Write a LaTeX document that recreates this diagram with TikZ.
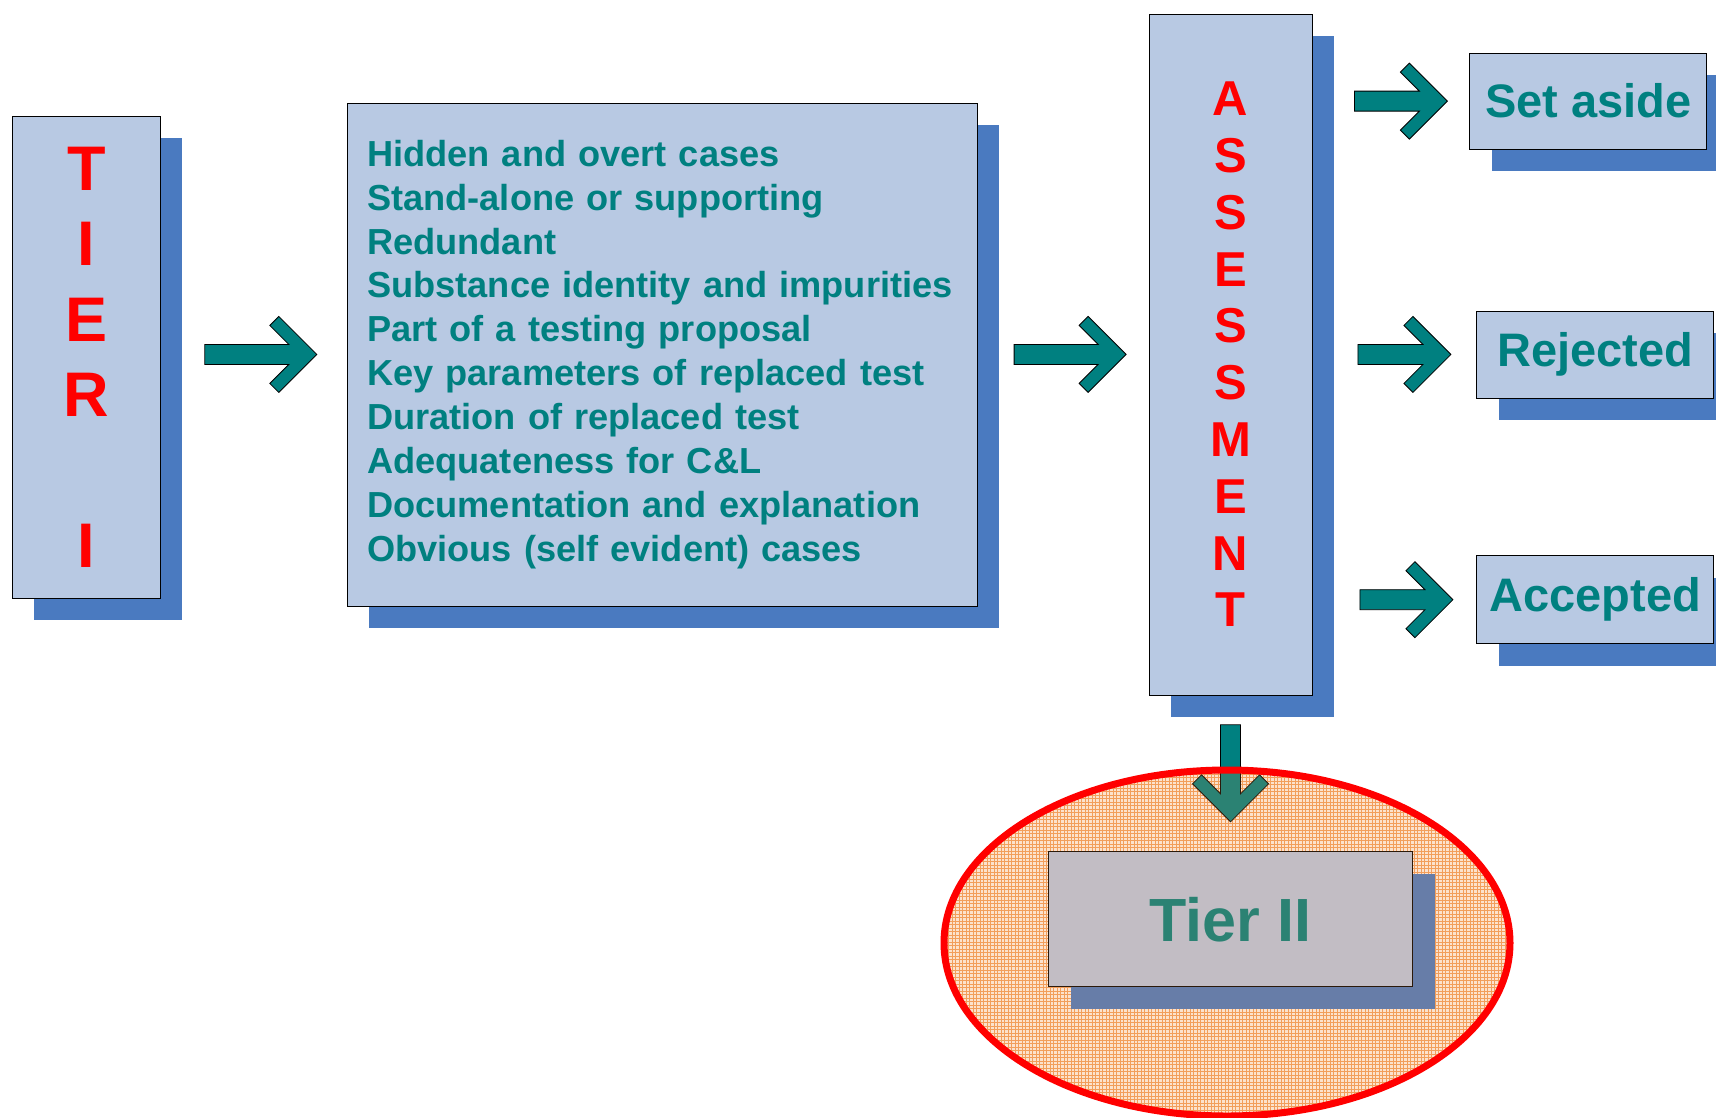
\documentclass[tikz,border=0pt]{standalone}
\usepackage{fontspec}
\setmainfont{Liberation Sans}
\usepackage{xcolor}
\usetikzlibrary{positioning, shadows, shapes.geometric, patterns, calc}

\definecolor{boxblue}{RGB}{184,201,227}
\definecolor{shadeblue}{RGB}{74,122,192}
\definecolor{tealink}{RGB}{0,128,128}
\definecolor{gridorange}{RGB}{240,140,60}

% fine orange grid for the Tier II halo
\pgfdeclarepatternformonly{finegrid}{\pgfqpoint{-0.5pt}{-0.5pt}}{\pgfqpoint{4pt}{4pt}}{\pgfqpoint{3.5pt}{3.5pt}}{%
  \pgfsetlinewidth{0.6pt}
  \pgfpathmoveto{\pgfqpoint{0pt}{0pt}}\pgfpathlineto{\pgfqpoint{0pt}{3.6pt}}
  \pgfpathmoveto{\pgfqpoint{0pt}{0pt}}\pgfpathlineto{\pgfqpoint{3.6pt}{0pt}}
  \pgfusepath{stroke}}

\tikzset{
  panel/.style={rectangle, draw=black, line width=0.8pt, fill=boxblue, inner sep=0pt,
    drop shadow={fill=shadeblue, opacity=1, shadow xshift=22pt, shadow yshift=-22pt}},
  redword/.style={text=red, align=center},
  outcome/.style={panel, minimum width=237pt, text=tealink,
    font=\bfseries\fontsize{47}{52}\selectfont},
  pics/blockarrow/.style={code={
    \draw[fill=tealink, draw=black, line width=0.8pt]
      ({#1/2},0) -- ++(-38,38) -- ++(-9,-9) -- ++(19,-19) -- ({-#1/2},10)
      -- ({-#1/2},-10) -- ({#1/2-28},-10) -- ++(-19,-19) -- ++(9,-9) -- cycle;
  }}
}

\begin{document}
\begin{tikzpicture}[x=1pt, y=1pt]
\useasboundingbox (0,0) rectangle (1716,-1117);

% main row
\node (tier) [panel, redword, anchor=north west, minimum width=148pt, minimum height=482pt,
  font=\bfseries\fontsize{63}{75.5}\selectfont] at (12,-116)
  {T\\I\\E\\R\\[75.5pt]I};
\node (crit) [panel, right=186pt of tier, yshift=3pt, minimum height=503pt,
  inner xsep=20pt, text width=590pt, align=left, text=tealink,
  font=\bfseries\fontsize{36.2}{43.9}\selectfont]
  {Hidden and overt cases\\
   Stand-alone or supporting\\
   Redundant\\
   Substance identity and impurities\\
   Part of a testing proposal\\
   Key parameters of replaced test\\
   Duration of replaced test\\
   Adequateness for C\&L\\
   Documentation and explanation\\
   Obvious (self evident) cases};
\node (assess) [panel, redword, right=171pt of crit, minimum width=163pt, minimum height=681pt,
  font=\bfseries\fontsize{49}{56.8}\selectfont]
  {A\\S\\S\\E\\S\\S\\M\\E\\N\\T};

% outcomes
\node (rejected) [outcome, right=164pt of assess, minimum height=87pt] {Rejected};
\node (setaside) [outcome, above=161pt of rejected, xshift=-7pt, minimum height=96pt] {Set aside};
\node (accepted) [outcome, below=157pt of rejected, minimum height=88pt] {Accepted};

% tier II
\node (halo) [ellipse, minimum width=566pt, minimum height=346pt, fill=orange!7,
  postaction={pattern=finegrid, pattern color=gridorange!80}] at (1227,-943) {};
\node (tier2) [panel, below=156pt of assess, minimum width=364pt, minimum height=135pt,
  text=tealink, font=\bfseries\fontsize{61}{66}\selectfont] {Tier II};

% arrows
\pic at ($(tier.east |- crit.west)!0.5!(crit.west)+(7,0)$) {blockarrow=112};
\pic at ($(crit.east)!0.5!(assess.west)+(7,0)$) {blockarrow=112};
\pic at ($(assess.east |- setaside.west)!0.5!(setaside.west)+(10,0)$) {blockarrow=93};
\pic at ($(assess.east |- rejected.west)!0.5!(rejected.west)+(10,0)$) {blockarrow=93};
\pic at ($(assess.east |- accepted.west)!0.5!(accepted.west)+(12,0)$) {blockarrow=93};
\pic[rotate=-90] at ($(assess.south)!0.5!(tier2.north)$) {blockarrow=97};

% halo outline and faint tint over the box
\draw[red, line width=7pt, fill=gridorange, fill opacity=0.18]
  (halo.center) ellipse [x radius=283, y radius=173];
\end{tikzpicture}
\end{document}
